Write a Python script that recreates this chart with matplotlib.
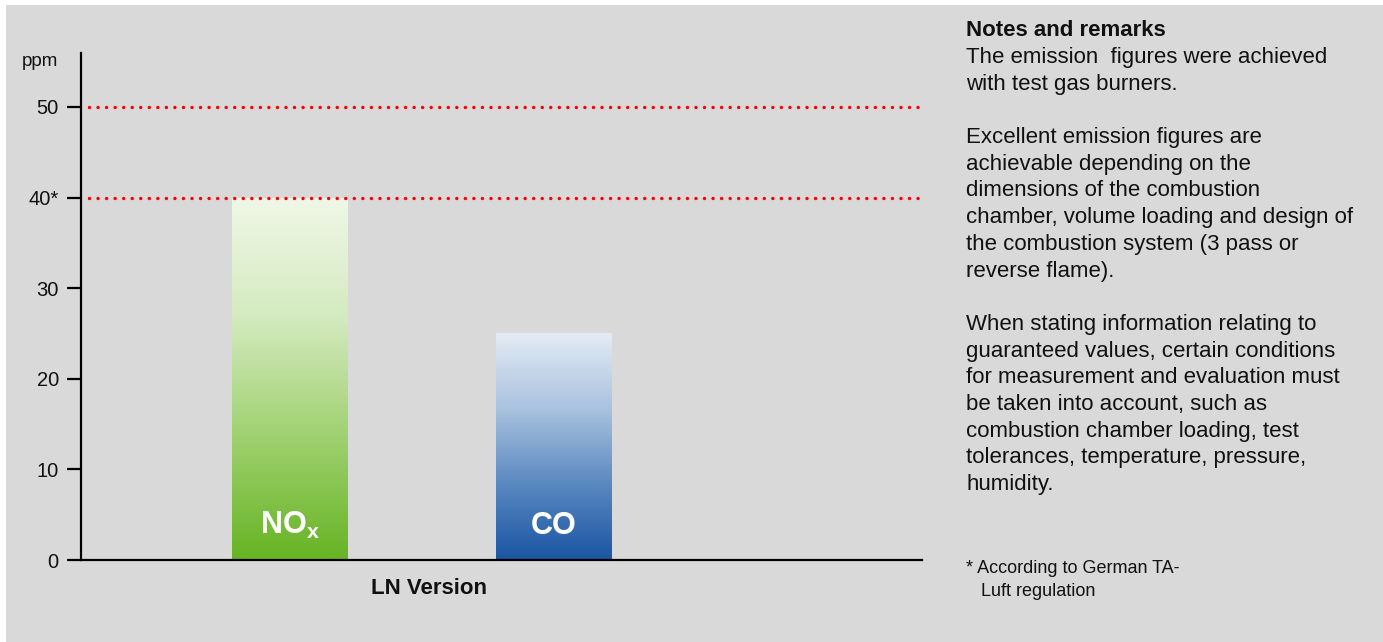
import matplotlib
matplotlib.use("Agg")
import matplotlib.pyplot as plt
import numpy as np
from matplotlib.colors import LinearSegmentedColormap
from matplotlib.patches import Rectangle

plt.rcParams['font.family'] = ['Liberation Sans', 'DejaVu Sans']

# --- data ---
categories = ["NOx", "CO"]
bar_labels = [r"NO$_\mathregular{x}$", "CO"]
values = [40, 25]
limit_lines = [50, 40]
ytick_values = [0, 10, 20, 30, 40, 50]
ytick_labels = ["0", "10", "20", "30", "40*", "50"]
unit_label = "ppm"
group_label = "LN Version"

notes_title = "Notes and remarks"
notes_body = ("The emission  figures were achieved\n"
              "with test gas burners.\n"
              "\n"
              "Excellent emission figures are\n"
              "achievable depending on the\n"
              "dimensions of the combustion\n"
              "chamber, volume loading and design of\n"
              "the combustion system (3 pass or\n"
              "reverse flame).\n"
              "\n"
              "When stating information relating to\n"
              "guaranteed values, certain conditions\n"
              "for measurement and evaluation must\n"
              "be taken into account, such as\n"
              "combustion chamber loading, test\n"
              "tolerances, temperature, pressure,\n"
              "humidity.")
footnote = "* According to German TA-\n   Luft regulation"

# --- styling ---
W, H = 1383, 642
DPI = 100
bg = "#d9d9d9"
text_color = "#111111"
gradients = [
    LinearSegmentedColormap.from_list("nox", ["#66b423", "#9fd06f", "#d4eabf", "#f0f7e8"]),
    LinearSegmentedColormap.from_list("co", ["#1a55a3", "#5a88c0", "#a9c2df", "#e4ebf4"]),
]

fig = plt.figure(figsize=(W / DPI, H / DPI), dpi=DPI, facecolor="white")
fig.patches.append(Rectangle((6 / W, 0), 1 - 6 / W, 1 - 5 / H,
                             transform=fig.transFigure, facecolor=bg,
                             edgecolor="none", zorder=-10))

# axes box in pixels: left 81, right 922, top 53, bottom 560
ax_l, ax_r, ax_t, ax_b = 81, 922, 53, 560
ax = fig.add_axes([ax_l / W, 1 - ax_b / H, (ax_r - ax_l) / W, (ax_b - ax_t) / H])
ax.set_facecolor("none")

x = np.arange(len(categories))
bar_w = 0.435
ax.set_xlim(-0.788, 2.391)
ax.set_ylim(0, 55.95)

bars = ax.bar(x, values, width=bar_w, color="none", edgecolor="none", zorder=2)
grad = np.linspace(0, 1, 256).reshape(-1, 1)
for rect, cmap in zip(bars, gradients):
    x0, y0 = rect.get_x(), rect.get_y()
    im = ax.imshow(grad, cmap=cmap, origin="lower", aspect="auto",
                   extent=[x0, x0 + rect.get_width(), y0, y0 + rect.get_height()],
                   zorder=2, interpolation="bilinear")
    im.set_clip_path(rect)

for xi, lab in zip(x, bar_labels):
    ax.text(xi, 3.8, lab, ha="center", va="center", color="white",
            fontsize=22, fontweight="bold", zorder=4)

# dotted limit lines
for yv in limit_lines:
    ax.plot([-0.758, 2.391], [yv, yv], color="#ff0000", lw=2.5,
            linestyle=(0, (0.01, 2.45)), dash_capstyle="round", zorder=3,
            clip_on=False)

for s in ["top", "right"]:
    ax.spines[s].set_visible(False)
for s in ["left", "bottom"]:
    ax.spines[s].set_linewidth(1.6)
    ax.spines[s].set_color("black")

ax.set_xticks([])
ax.set_yticks(ytick_values)
ax.set_yticklabels(ytick_labels)
ax.tick_params(axis="y", length=10, width=1.6, pad=6, labelsize=14.5,
               labelcolor=text_color)

fig.text(58 / W, 1 - 62 / H, unit_label, ha="right", va="center",
         fontsize=13.5, color=text_color)

fig.text(429 / W, 1 - 589 / H, group_label, ha="center", va="center",
         fontsize=16, fontweight="bold", color=text_color)

# notes panel
fig.text(966 / W, 1 - 30 / H, notes_title, ha="left", va="center",
         fontsize=16, fontweight="bold", color=text_color)
fig.text(966 / W, 1 - 47 / H, notes_body, ha="left", va="top",
         fontsize=16, color=text_color, linespacing=1.356)
fig.text(966 / W, 1 - 560 / H, footnote, ha="left", va="top",
         fontsize=13, color=text_color, linespacing=1.45)

fig.savefig("out.png", dpi=DPI, facecolor=fig.get_facecolor())
